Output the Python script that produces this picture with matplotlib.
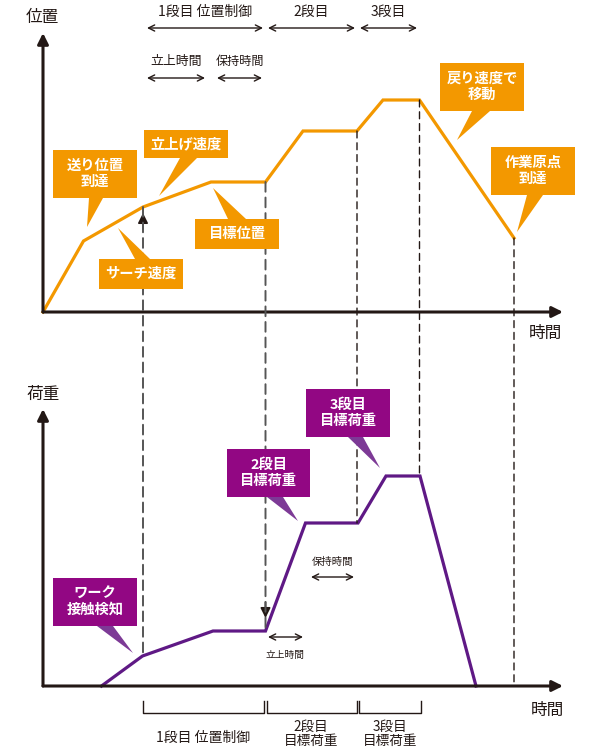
import numpy as np
import matplotlib.pyplot as plt
from matplotlib.patches import Rectangle, Polygon, ConnectionPatch

plt.rcParams['font.family'] = ['Noto Sans CJK JP', 'DejaVu Sans']

# 位置 (上段)
pos_t = [0, 4.05, 10.0, 16.8, 22.25, 26.0, 31.4, 34.0, 37.65, 47.1]
pos_v = [0, 7.1, 10.5, 13.0, 13.0, 18.1, 18.1, 21.2, 21.2, 7.4]
# 荷重 (下段)
load_t = [5.85, 9.95, 17.0, 22.25, 26.25, 31.5, 34.3, 37.7, 43.3]
load_v = [0, 3.0, 5.5, 5.5, 16.3, 16.3, 21.0, 21.0, 0]
# 破線の時刻
guide_t = [10.0, 22.25, 31.4, 37.65, 47.1]

ORANGE = '#f39800'
PURPLE_BOX = '#920783'
PURPLE_TIP = '#7d3a96'
PURPLE_LINE = '#5f1985'
INK = '#231815'

W, H = 600, 753
fig = plt.figure(figsize=(6, 7.53), dpi=100)


def px_axes(x0, y0, x1, y1):
    # 画素座標 (左上原点) から axes を作る
    return fig.add_axes([x0 / W, 1 - y1 / H, (x1 - x0) / W, (y1 - y0) / H])


ax1 = px_axes(43, 33, 563, 312)
ax2 = px_axes(43, 409, 563, 686)
for ax, top in ((ax1, 27.9), (ax2, 27.7)):
    ax.set_xlim(0, 52)
    ax.set_ylim(0, top)
    ax.axis('off')
    ax.patch.set_alpha(0)
    arr = dict(arrowstyle='-|>', color=INK, lw=2.2, mutation_scale=16,
               shrinkA=0, shrinkB=0)
    ax.annotate('', xy=(0, 1), xytext=(0, 0), xycoords='axes fraction',
                arrowprops=arr, annotation_clip=False)
    ax.annotate('', xy=(1, 0), xytext=(0, 0), xycoords='axes fraction',
                arrowprops=arr, annotation_clip=False)

ax1.plot(pos_t, pos_v, color=ORANGE, lw=2.3, solid_joinstyle='miter', clip_on=False)
ax2.plot(load_t, load_v, color=PURPLE_LINE, lw=2.3, solid_joinstyle='miter', clip_on=False)

# 上下をつなぐ破線
for i, t in enumerate(guide_t):
    yt = np.interp(t, pos_t, pos_v)
    yb = np.interp(t, load_t, load_v, left=0, right=0)
    if i < 2:
        col, lw, dash = '#555555', 1.4, (0, (5, 3))
    else:
        col, lw, dash = INK, 1.0, (0, (5, 3.5))
    con = ConnectionPatch(xyA=(t, yt), coordsA=ax1.transData,
                          xyB=(t, yb), coordsB=ax2.transData,
                          color=col, lw=lw, linestyle=dash)
    fig.add_artist(con)

# 破線の矢じり
ax1.annotate('', xy=(10.0, 10.5 - 0.6), xytext=(10.0, 10.5 - 2.2),
             arrowprops=dict(arrowstyle='-|>', color=INK, lw=1.2,
                             mutation_scale=15, shrinkA=0, shrinkB=0))
ax2.annotate('', xy=(22.25, 5.5 + 1.3), xytext=(22.25, 5.5 + 2.9),
             arrowprops=dict(arrowstyle='-|>', color=INK, lw=1.2,
                             mutation_scale=15, shrinkA=0, shrinkB=0))

# 注記用のオーバーレイ
ov = fig.add_axes([0, 0, 1, 1], zorder=5)
ov.set_xlim(0, W)
ov.set_ylim(H, 0)
ov.axis('off')
ov.patch.set_alpha(0)


def callout(box, base, edge, tip, text, fc, pc):
    x0, y0, x1, y1 = box
    ov.add_patch(Rectangle((x0, y0), x1 - x0, y1 - y0, fc=fc, ec='none'))
    ey = y1 if edge == 'bottom' else y0
    ov.add_patch(Polygon([(base[0], ey), (base[1], ey), tip], fc=pc, ec='none'))
    ov.text((x0 + x1) / 2, (y0 + y1) / 2, text, color='white', fontsize=10.3,
            fontweight='bold', ha='center', va='center', linespacing=1.2)


callout((53, 150, 137, 198), (89, 103), 'bottom', (87, 227), '送り位置\n到達', ORANGE, ORANGE)
callout((144, 130, 228, 158), (180, 197), 'bottom', (159, 196), '立上げ速度', ORANGE, ORANGE)
callout((195, 219, 279, 249), (228, 246), 'top', (213, 188), '目標位置', ORANGE, ORANGE)
callout((99, 259, 183, 289), (135, 150), 'top', (118, 228), 'サーチ速度', ORANGE, ORANGE)
callout((440, 63, 524, 111), (472, 490), 'bottom', (457, 140), '戻り速度で\n移動', ORANGE, ORANGE)
callout((491, 147, 575, 195), (527, 543), 'bottom', (517, 232), '作業原点\n到達', ORANGE, ORANGE)
callout((53, 578, 137, 626), (97, 113), 'bottom', (133, 653), 'ワーク\n接触検知', PURPLE_BOX, PURPLE_TIP)
callout((227, 449, 310, 497), (267, 283), 'bottom', (298, 521), '2段目\n目標荷重', PURPLE_BOX, PURPLE_TIP)
callout((306, 389, 390, 437), (348, 363), 'bottom', (380, 468), '3段目\n目標荷重', PURPLE_BOX, PURPLE_TIP)

# 軸ラベル
ov.text(42, 17, '位置', fontsize=12, color=INK, ha='center', va='center')
ov.text(43, 394, '荷重', fontsize=12, color=INK, ha='center', va='center')
ov.text(545, 333, '時間', fontsize=12, color=INK, ha='center', va='center')
ov.text(547, 710, '時間', fontsize=12, color=INK, ha='center', va='center')


def span(x0, x1, y, label=None, ly=None, fs=10):
    ov.annotate('', xy=(x1, y), xytext=(x0, y),
                arrowprops=dict(arrowstyle='<->', color=INK, lw=1.0,
                                mutation_scale=11, shrinkA=0, shrinkB=0))
    if label:
        ov.text((x0 + x1) / 2, ly, label, fontsize=fs, color=INK,
                ha='center', va='center')


span(147, 263, 28, '1段目 位置制御', 12)
span(268, 355, 28, '2段目', 12)
span(360, 417, 28, '3段目', 12)
span(147, 205, 78, '立上時間', 61, 9.3)
span(217, 262, 78, '保持時間', 61, 8.7)
span(268, 303, 637, '立上時間', 655, 7)
span(311, 354, 577, '保持時間', 562, 7.5)

# 下部の区間
for x0, x1 in ((143, 264), (267, 357), (359, 421)):
    ov.plot([x0, x0, x1, x1], [701, 713, 713, 701], color=INK, lw=1.0)
ov.text(203, 738, '1段目 位置制御', fontsize=10, color=INK, ha='center', va='center')
ov.text(311, 734, '2段目\n目標荷重', fontsize=9.8, color=INK, ha='center', va='center',
        linespacing=1.0)
ov.text(390, 734, '3段目\n目標荷重', fontsize=9.8, color=INK, ha='center', va='center',
        linespacing=1.0)

fig.savefig('out.png', dpi=100)
